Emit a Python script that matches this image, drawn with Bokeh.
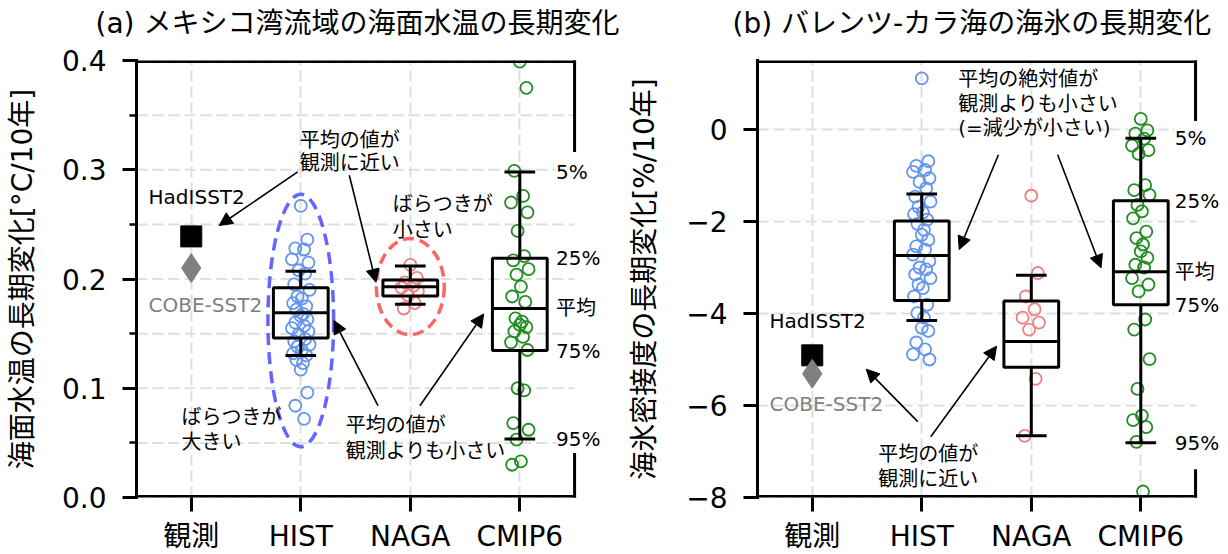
from bokeh.plotting import figure
from bokeh.layouts import row, column
from bokeh.models import FixedTicker, Label, Arrow, NormalHead, Range1d, PrintfTickFormatter
from bokeh.embed import file_html
from bokeh.resources import INLINE

FONT = "DejaVu Sans, Noto Sans CJK JP"

categories = ["観測", "HIST", "NAGA", "CMIP6"]
stat_names = ["5%", "25%", "平均", "75%", "95%"]
titles = ["(a) メキシコ湾流域の海面水温の長期変化", "(b) バレンツ-カラ海の海氷の長期変化"]

# ---- (a) Gulf Stream SST trend [°C/10yr] ----
sst_hadisst2 = 0.239
sst_cobe = 0.210
sst_hist = [0.267, 0.236, 0.228, 0.227, 0.218, 0.215, 0.208, 0.205, 0.195, 0.190,
            0.184, 0.182, 0.178, 0.175, 0.172, 0.168, 0.166, 0.163, 0.160, 0.157,
            0.155, 0.152, 0.149, 0.145, 0.143, 0.140, 0.138, 0.135, 0.132, 0.130,
            0.126, 0.123, 0.117, 0.096, 0.084, 0.072]
sst_naga = [0.213, 0.201, 0.197, 0.194, 0.192, 0.189, 0.185, 0.178, 0.173]
sst_cmip6 = [0.399, 0.375, 0.299, 0.276, 0.270, 0.261, 0.244, 0.221, 0.217, 0.209,
             0.204, 0.193, 0.184, 0.179, 0.164, 0.161, 0.158, 0.156, 0.152, 0.147,
             0.142, 0.135, 0.100, 0.098, 0.068, 0.062, 0.053, 0.033, 0.030]
# box statistics in label order: 5%, 25%, mean, 75%, 95%
sst_hist_stats = [0.207, 0.192, 0.169, 0.146, 0.130]
sst_naga_stats = [0.212, 0.199, 0.193, 0.1845, 0.177]
sst_cmip6_stats = [0.298, 0.219, 0.173, 0.1345, 0.0535]
sst_major = [0.0, 0.1, 0.2, 0.3, 0.4]
sst_minor = [0.05, 0.15, 0.25, 0.35]

# ---- (b) Barents-Kara sea-ice concentration trend [%/10yr] ----
sic_hadisst2 = -4.91
sic_cobe = -5.31
sic_hist = [1.11, -0.69, -0.79, -0.88, -0.92, -1.06, -1.14, -1.28, -1.46, -1.57,
            -1.68, -1.80, -1.84, -1.96, -2.05, -2.18, -2.29, -2.40, -2.54, -2.61,
            -2.72, -2.86, -3.00, -3.04, -3.15, -3.23, -3.37, -3.45, -3.63, -3.81,
            -3.99, -4.09, -4.31, -4.38, -4.63, -4.78, -4.89, -5.00]
sic_naga = [-1.44, -3.12, -3.63, -3.91, -4.09, -4.20, -4.35, -5.42, -6.66]
sic_cmip6 = [0.23, -0.02, -0.09, -0.20, -0.35, -0.45, -0.53, -1.21, -1.32, -1.42,
             -1.64, -1.78, -1.93, -2.22, -2.36, -2.50, -2.65, -2.79, -2.94, -3.00,
             -3.23, -3.37, -3.52, -4.13, -4.35, -4.99, -5.64, -6.22, -6.32, -6.47,
             -6.79, -7.87]
sic_hist_stats = [-1.40, -1.99, -2.74, -3.72, -4.15]
sic_naga_stats = [-3.17, -3.73, -4.61, -5.17, -6.66]
sic_cmip6_stats = [-0.19, -1.55, -3.09, -3.81, -6.81]
sic_major = [-8, -6, -4, -2, 0]
sic_tick_labels = ["−8", "−6", "−4", "−2", "0"]

COLORS = {"HIST": "#6495ED", "NAGA": "#F08080", "CMIP6": "#228B22"}
JITTER = [0.00, 0.06, -0.05, 0.03, -0.08, 0.07, -0.02, 0.04, -0.06, 0.08,
          -0.03, 0.01, -0.07, 0.05, -0.04, 0.02]
BOX_W = 0.5
CAP_W = 0.28
GRID_COLOR, GRID_DASH, GRID_W = "#dedede", "11 5", 2
AX_LEFT, AX_RIGHT = -0.5, 3.5      # extent of the boxed axes area
FRAME_H = 437
TITLE_H = 42
PANEL_TOP = 18


def add_text(p, x, y, text, color="black", size="20px", bg=None):
    p.add_layout(Label(x=x, y=y, text=text, text_font=FONT, text_font_size=size,
                       text_color=color, text_align="left", text_baseline="middle",
                       background_fill_color=bg))


def add_arrow(p, x0, y0, x1, y1):
    p.add_layout(Arrow(x_start=x0, y_start=y0, x_end=x1, y_end=y1,
                       line_color="black", line_width=1.6,
                       end=NormalHead(size=13, fill_color="black", line_color="black",
                                      line_width=1)))


def add_spine(p, x0, y0, x1, y1):
    p.add_layout(Arrow(x_start=x0, y_start=y0, x_end=x1, y_end=y1, start=None, end=None,
                       line_color="black", line_width=3, line_cap="square"))


def make_panel(ylabel, yr, major, minor, groups, stats, obs,
               border_left, frame_w, x_end, label_standoff):
    p = figure(frame_width=frame_w, frame_height=FRAME_H,
               min_border_left=border_left, min_border_right=0,
               min_border_top=PANEL_TOP, min_border_bottom=57,
               x_range=Range1d(AX_LEFT, x_end), y_range=Range1d(*yr),
               output_backend="svg", toolbar_location=None, tools="")
    p.outline_line_color = None
    p.border_fill_color = "white"

    xa, ya = p.xaxis[0], p.yaxis[0]
    xa.ticker = FixedTicker(ticks=list(range(len(categories))))
    xa.major_label_overrides = {i: c for i, c in enumerate(categories)}
    ya.ticker = FixedTicker(ticks=major, minor_ticks=minor)
    for ax in (xa, ya):
        ax.axis_line_width = 3
        ax.axis_line_cap = "square"
        ax.major_tick_line_width = 3
        ax.major_tick_out = 14
        ax.major_tick_in = 0
        ax.minor_tick_line_width = 2.5
        ax.minor_tick_out = 7
        ax.minor_tick_in = 0
        ax.major_label_text_font = FONT
        ax.major_label_text_font_size = "28px"
        ax.major_label_text_color = "black"
        ax.axis_label_text_font = FONT
        ax.axis_label_text_font_size = "28px"
        ax.axis_label_text_font_style = "normal"
        ax.axis_label_text_color = "black"
    xa.axis_line_color = None
    xa.minor_tick_line_color = None
    xa.major_label_standoff = 8
    ya.major_label_standoff = 16
    ya.axis_label = ylabel
    ya.axis_label_standoff = label_standoff

    xg = p.xgrid[0]
    xg.ticker = xa.ticker
    xg.grid_line_color = GRID_COLOR
    xg.grid_line_dash = GRID_DASH
    xg.grid_line_width = GRID_W
    p.ygrid[0].visible = False

    # horizontal grid lines only across the boxed area
    gy = sorted(major + minor)
    p.segment(x0=[AX_LEFT] * len(gy), x1=[AX_RIGHT] * len(gy), y0=gy, y1=gy,
              line_color=GRID_COLOR, line_dash=GRID_DASH, line_width=GRID_W)

    # ensemble members
    for name, vals in groups.items():
        i = categories.index(name)
        xs = [i + JITTER[k % len(JITTER)] for k in range(len(vals))]
        p.scatter(xs, vals, marker="circle", size=12, fill_color=None,
                  line_color=COLORS[name], line_width=1.8)

    # boxes: 5% / 25% / mean / 75% / 95%
    for name, s in stats.items():
        i = categories.index(name)
        hi, q_hi, mean, q_lo, lo = s
        p.quad(left=[i - BOX_W / 2], right=[i + BOX_W / 2], top=[q_hi], bottom=[q_lo],
               fill_color=None, line_color="black", line_width=3)
        p.segment(x0=[i - BOX_W / 2], x1=[i + BOX_W / 2], y0=[mean], y1=[mean],
                  line_color="black", line_width=3)
        p.segment(x0=[i, i], x1=[i, i], y0=[q_hi, q_lo], y1=[hi, lo],
                  line_color="black", line_width=3)
        p.segment(x0=[i - CAP_W / 2] * 2, x1=[i + CAP_W / 2] * 2, y0=[hi, lo], y1=[hi, lo],
                  line_color="black", line_width=3)

    # observations
    had, cobe = obs
    p.scatter([0], [had], marker="square", size=21, color="black")
    p.scatter([0], [cobe], marker="diamond", size=29, color="gray")

    # top and bottom spines, nudged one pixel inside the frame
    px = (yr[1] - yr[0]) / FRAME_H
    add_spine(p, AX_LEFT, yr[1] - px, AX_RIGHT, yr[1] - px)
    add_spine(p, AX_LEFT, yr[0] + px, AX_RIGHT, yr[0] + px)
    return p


# ---------------- panel (a) ----------------
pa = make_panel("海面水温の長期変化[°C/10年]",
                (0.0, 0.4), sst_major, sst_minor,
                {"HIST": sst_hist, "NAGA": sst_naga, "CMIP6": sst_cmip6},
                {"HIST": sst_hist_stats, "NAGA": sst_naga_stats, "CMIP6": sst_cmip6_stats},
                (sst_hadisst2, sst_cobe),
                border_left=136, frame_w=489, x_end=3.965, label_standoff=20)
pa.yaxis[0].formatter = PrintfTickFormatter(format="%.1f")

pa.ellipse(x=[1], y=[0.162], width=0.6, height=0.231, fill_color=None,
           line_color="#6464FF", line_width=3.5, line_dash="12 7")
pa.ellipse(x=[2], y=[0.193], width=0.62, height=0.088, fill_color=None,
           line_color="#FF6464", line_width=3.5, line_dash="11 6")

# right spine, interrupted beside the percentile labels
add_spine(pa, AX_RIGHT, 0.4, AX_RIGHT, 0.3176)
add_spine(pa, AX_RIGHT, 0.0394, AX_RIGHT, 0.0)

add_text(pa, -0.39, 0.2755, "HadISST2")
add_text(pa, -0.39, 0.176, "COBE-SST2", color="gray")
add_text(pa, 0.99, 0.327, "平均の値が")
add_text(pa, 0.99, 0.306, "観測に近い")
add_text(pa, 1.84, 0.269, "ばらつきが")
add_text(pa, 1.84, 0.2444, "小さい")
add_text(pa, -0.09, 0.0735, "ばらつきが")
add_text(pa, -0.09, 0.0506, "大きい")
add_text(pa, 1.41, 0.066, "平均の値が")
add_text(pa, 1.41, 0.043, "観測よりも小さい")
for name, v in zip(stat_names, sst_cmip6_stats):
    add_text(pa, 3.33, v, name, bg="white")

add_arrow(pa, 0.972, 0.298, 0.255, 0.249)
add_arrow(pa, 1.443, 0.295, 1.686, 0.197)
add_arrow(pa, 1.705, 0.084, 1.303, 0.162)
add_arrow(pa, 2.088, 0.084, 2.670, 0.168)

# ---------------- panel (b) ----------------
pb = make_panel("海氷密接度の長期変化[%/10年]",
                (-8.0, 1.5), sic_major, [],
                {"HIST": sic_hist, "NAGA": sic_naga, "CMIP6": sic_cmip6},
                {"HIST": sic_hist_stats, "NAGA": sic_naga_stats, "CMIP6": sic_cmip6_stats},
                (sic_hadisst2, sic_cobe),
                border_left=131, frame_w=472, x_end=3.81, label_standoff=22)
pb.yaxis[0].major_label_overrides = dict(zip(sic_major, sic_tick_labels))

add_spine(pb, AX_RIGHT, 1.5, AX_RIGHT, 0.217)
add_spine(pb, AX_RIGHT, -7.42, AX_RIGHT, -8.0)

add_text(pb, -0.39, -4.165, "HadISST2")
add_text(pb, -0.39, -5.965, "COBE-SST2", color="gray")
add_text(pb, 1.333, 1.106, "平均の絶対値が")
add_text(pb, 1.333, 0.564, "観測よりも小さい")
add_text(pb, 1.333, 0.043, "(=減少が小さい)")
add_text(pb, 0.603, -7.05, "平均の値が")
add_text(pb, 0.603, -7.59, "観測に近い")
for name, v in zip(stat_names, sic_cmip6_stats):
    add_text(pb, 3.31, v, name, bg="white")

add_arrow(pb, 1.70, -0.55, 1.342, -2.61)
add_arrow(pb, 2.241, -0.55, 2.637, -3.01)
add_arrow(pb, 0.963, -6.35, 0.493, -5.21)
add_arrow(pb, 1.082, -6.68, 1.683, -4.71)

# ---------------- panel titles (a strip measured in pixels, y downwards) ----------------
pt = figure(width=1228, height=TITLE_H,
            x_range=Range1d(0, 1228), y_range=Range1d(TITLE_H, 0),
            x_axis_type=None, y_axis_type=None, min_border=0,
            output_backend="svg", toolbar_location=None, tools="")
pt.outline_line_color = None
pt.grid.visible = False
for text, x0 in zip(titles, [95, 732]):
    pt.add_layout(Label(x=x0, y=23, text=text, text_font=FONT, text_font_size="28px",
                        text_color="black", text_align="left", text_baseline="middle"))

layout = column(pt, row(pa, pb))
open("out.html", "w").write(file_html(layout, INLINE))
